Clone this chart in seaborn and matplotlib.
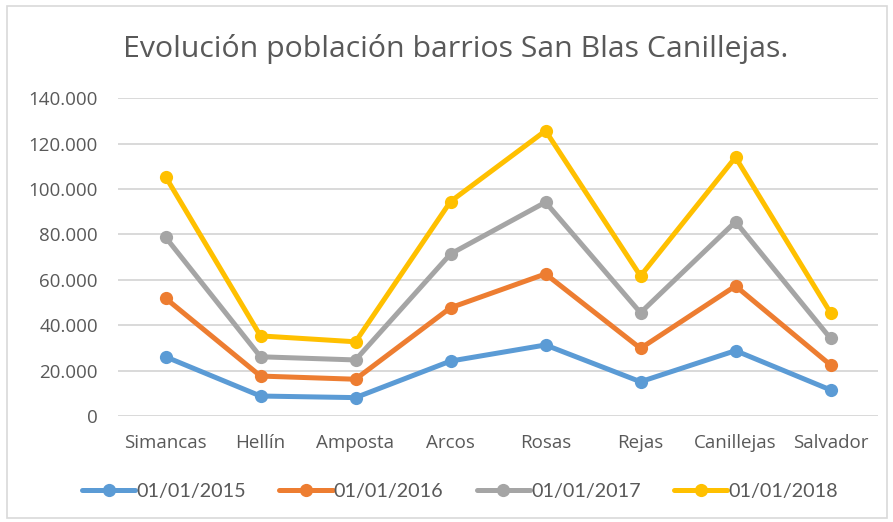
import matplotlib
matplotlib.use("Agg")
import matplotlib.pyplot as plt
import seaborn as sns
import pandas as pd
from matplotlib.lines import Line2D
from matplotlib.patches import Rectangle
from matplotlib.ticker import FuncFormatter

barrios = ["Simancas", "Hellín", "Amposta", "Arcos", "Rosas", "Rejas", "Canillejas", "Salvador"]
series_names = ["01/01/2015", "01/01/2016", "01/01/2017", "01/01/2018"]
v2015 = [26100, 8800, 8100, 24200, 31300, 15100, 28800, 11500]
v2016 = [51900, 17600, 16200, 47700, 62600, 29800, 57300, 22500]
v2017 = [78800, 26100, 24700, 71400, 94200, 45500, 85600, 34200]
v2018 = [105500, 35300, 32700, 94500, 125700, 61700, 114000, 45500]
colors = ["#5B9BD5", "#ED7D31", "#A5A5A5", "#FFC000"]
title = "Evolución población barrios San Blas Canillejas."
yticks = [0, 20000, 40000, 60000, 80000, 100000, 120000, 140000]

rows = []
for name, vals in zip(series_names, [v2015, v2016, v2017, v2018]):
    for i, (b, v) in enumerate(zip(barrios, vals)):
        rows.append({"serie": name, "barrio": b, "x": i, "valor": v})
df = pd.DataFrame(rows)

sns.set_theme(style="white")
plt.rcParams["font.family"] = ["Open Sans", "DejaVu Sans"]

fig = plt.figure(figsize=(8.93, 5.22), dpi=100)
fig.patch.set_facecolor("white")
ax = fig.add_axes([118 / 893, 1 - 416 / 522, 760 / 893, (416 - 98.3) / 522])

sns.lineplot(data=df, x="x", y="valor", hue="serie", palette=colors,
             hue_order=series_names, marker="o", markersize=9.5, linewidth=3.6,
             markeredgewidth=0, legend=False, ax=ax, zorder=3)

ax.set_xlim(-0.5, 7.5)
ax.set_ylim(0, 140000)
ax.set_xticks(range(len(barrios)))
ax.set_xticklabels(barrios)
ax.set_yticks(yticks)
ax.yaxis.set_major_formatter(FuncFormatter(lambda v, p: "0" if v == 0 else f"{int(v):,}".replace(",", ".")))
ax.grid(axis="y", color="#D9D9D9", linewidth=1.4)
ax.set_axisbelow(True)
for s in ax.spines.values():
    s.set_visible(False)
ax.tick_params(axis="y", length=0, pad=14.5, labelsize=13.5, labelcolor="#595959")
ax.tick_params(axis="x", length=0, pad=13, labelsize=13.5, labelcolor="#595959")
ax.set_xlabel("")
ax.set_ylabel("")

fig.text(456 / 893, 1 - 49.5 / 522, title, ha="center", va="center",
         fontsize=21.8, color="#595959")

handles = [Line2D([0], [0], color=c, linewidth=3.6, marker="o", markersize=9.5,
                  markeredgewidth=0) for c in colors]
fig.legend(handles, series_names, loc="center", bbox_to_anchor=(460 / 893, 1 - 491 / 522),
           ncol=4, frameon=False, prop={"family": ["Lato", "DejaVu Sans"], "size": 14.2},
           labelcolor="#595959", handlelength=2.7, handletextpad=0.05, columnspacing=1.7)

fig.patches.append(Rectangle((7 / 893, 4 / 522), 880 / 893, 512 / 522,
                             transform=fig.transFigure, fill=False,
                             edgecolor="#D9D9D9", linewidth=1.2))

fig.savefig("out.png", dpi=100)
